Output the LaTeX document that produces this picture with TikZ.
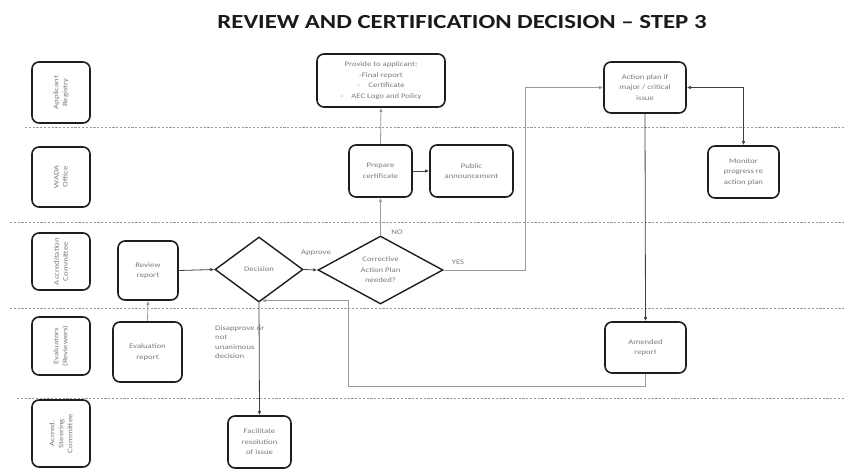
\documentclass[tikz,border=0pt]{standalone}
\usepackage{fontspec}
\setmainfont{Carlito}[FakeStretch=1.24]
\usetikzlibrary{shapes.geometric,arrows.meta,calc}
\definecolor{txtgray}{HTML}{7A7A7A}
\definecolor{linegray}{HTML}{9A9A9A}
\definecolor{boxline}{HTML}{1E1E1E}
\definecolor{titlecol}{HTML}{1A1A1A}
\tikzset{
  lanebox/.style={draw=boxline,line width=1.6pt,rounded corners=7pt,minimum width=#1,inner sep=1pt},
  lanetext/.style={rotate=90,text=txtgray,font=\fontsize{7}{9}\selectfont,align=center},
  procbox/.style={draw=boxline,line width=1.6pt,rounded corners=7pt,text=txtgray,font=\fontsize{7}{10.5}\selectfont,align=center,inner sep=1pt},
  decbox/.style={diamond,draw=boxline,line width=1.4pt,text=txtgray,font=\fontsize{7}{10.5}\selectfont,align=center,inner sep=0pt},
  lanesep/.style={draw=linegray,line width=0.8pt,dash pattern=on 2.2pt off 1.6pt},
  flow/.style={draw=linegray,line width=0.8pt,-{Latex[length=4pt,width=3.5pt]}},
  flowdark/.style={draw=black!75,line width=0.8pt,-{Latex[length=4pt,width=3.5pt]}},
  lbl/.style={text=txtgray,font=\fontsize{7}{9.5}\selectfont,inner sep=0pt}
}
\begin{document}
\begin{tikzpicture}[x=1pt,y=-1pt]
\useasboundingbox (0,0) rectangle (845,471);

% title
\node[text=titlecol,font=\fontsize{20}{22}\selectfont\bfseries] (title) at (462,22) {REVIEW AND CERTIFICATION DECISION – STEP 3};

% swimlane separators
\draw[lanesep] (25,127) -- (845,127);
\draw[lanesep] (10,222) -- (845,222);
\draw[lanesep] (10,308) -- (845,308);
\draw[lanesep] (17,398) -- (845,398);

% lane headers
\node[lanebox=58pt,minimum height=61pt] (laneA) at (61,92.5) {};
\node[lanetext] at (laneA) {Applicant\\Registry};
\node[lanebox=58pt,minimum height=60pt] (laneB) at (61,177) {};
\node[lanetext] at (laneB) {WADA\\Office};
\node[lanebox=58pt,minimum height=57pt] (laneC) at (61,261.5) {};
\node[lanetext] at (laneC) {Accreditation\\Committee};
\node[lanebox=58pt,minimum height=58pt] (laneD) at (61,346) {};
\node[lanetext] at (laneD) {Evaluators\\(Reviewers)};
\node[lanebox=58pt,minimum height=67pt] (laneE) at (61,433.5) {};
\node[lanetext] at (laneE) {Accred.\\Steering\\Committee};

% process steps
\node[procbox,minimum width=128pt,minimum height=53pt] (provide) at (381,80.5)
  {Provide to applicant:\\-Final report\\-\hspace{1.2em}Certificate\\-\hspace{1.2em}AEC Logo and Policy};
\node[procbox,minimum width=63pt,minimum height=52pt] (prepare) at (380.5,171) {Prepare\\certificate};
\node[procbox,minimum width=83pt,minimum height=52pt] (public) at (471.5,171) {Public\\announcement};
\node[procbox,minimum width=60pt,minimum height=59pt] (review) at (148,270.5) {Review\\report};
\node[procbox,minimum width=69pt,minimum height=60pt] (evalrep) at (147.5,352) {Evaluation\\report};
\node[decbox,minimum width=88pt,minimum height=65pt] (decision) at (259,269.5) {Decision};
\node[decbox,minimum width=125pt,minimum height=68pt] (cap) at (380.5,270) {Corrective\\Action Plan\\needed?};
\node[procbox,minimum width=82pt,minimum height=51pt] (action) at (645,87.5) {Action plan if\\major / critical\\issue};
\node[procbox,minimum width=71pt,minimum height=52pt] (monitor) at (743.5,172) {Monitor\\progress re\\action plan};
\node[procbox,minimum width=81pt,minimum height=51pt] (amended) at (645.5,347.5) {Amended\\report};
\node[procbox,minimum width=63pt,minimum height=52pt] (facil) at (259.5,442) {Facilitate\\resolution\\of issue};

% connectors
\draw[flow] (evalrep.north) -- (review.south);
\draw[flowdark] (review.east) -- (decision.west);
\draw[flowdark] (decision.east) -- (cap.west);
\node[lbl] (approve) at (316,253) {Approve};
\draw[flow] (cap.north) -- (prepare.south);
\node[lbl] (no) at (397,232) {NO};
\draw[flow] (prepare.north) -- (provide.south);
\draw[flowdark] (prepare.east) -- (public.west);
\draw[flow] (cap.east) -- (525,270) |- (action.west);
\node[lbl] (yes) at (458,262) {YES};
\draw[flowdark,{Latex[length=4pt,width=3.5pt]}-{Latex[length=4pt,width=3.5pt]}] (action.east) -| (monitor.north);
\draw[flowdark] (action.south) -- (amended.north);
\coordinate (loopA) at (645.5,386);
\coordinate (loopB) at (348,386);
\draw[flow] (amended.south) -- (loopA) -- (loopB) |- ($(decision.south)+(3,-2)$);
\draw[flowdark] (decision.south) -- (facil.north);
\node[lbl,align=left,anchor=north west] (disapprove) at (215,325) {Disapprove or\\not\\unanimous\\decision};
\end{tikzpicture}
\end{document}
